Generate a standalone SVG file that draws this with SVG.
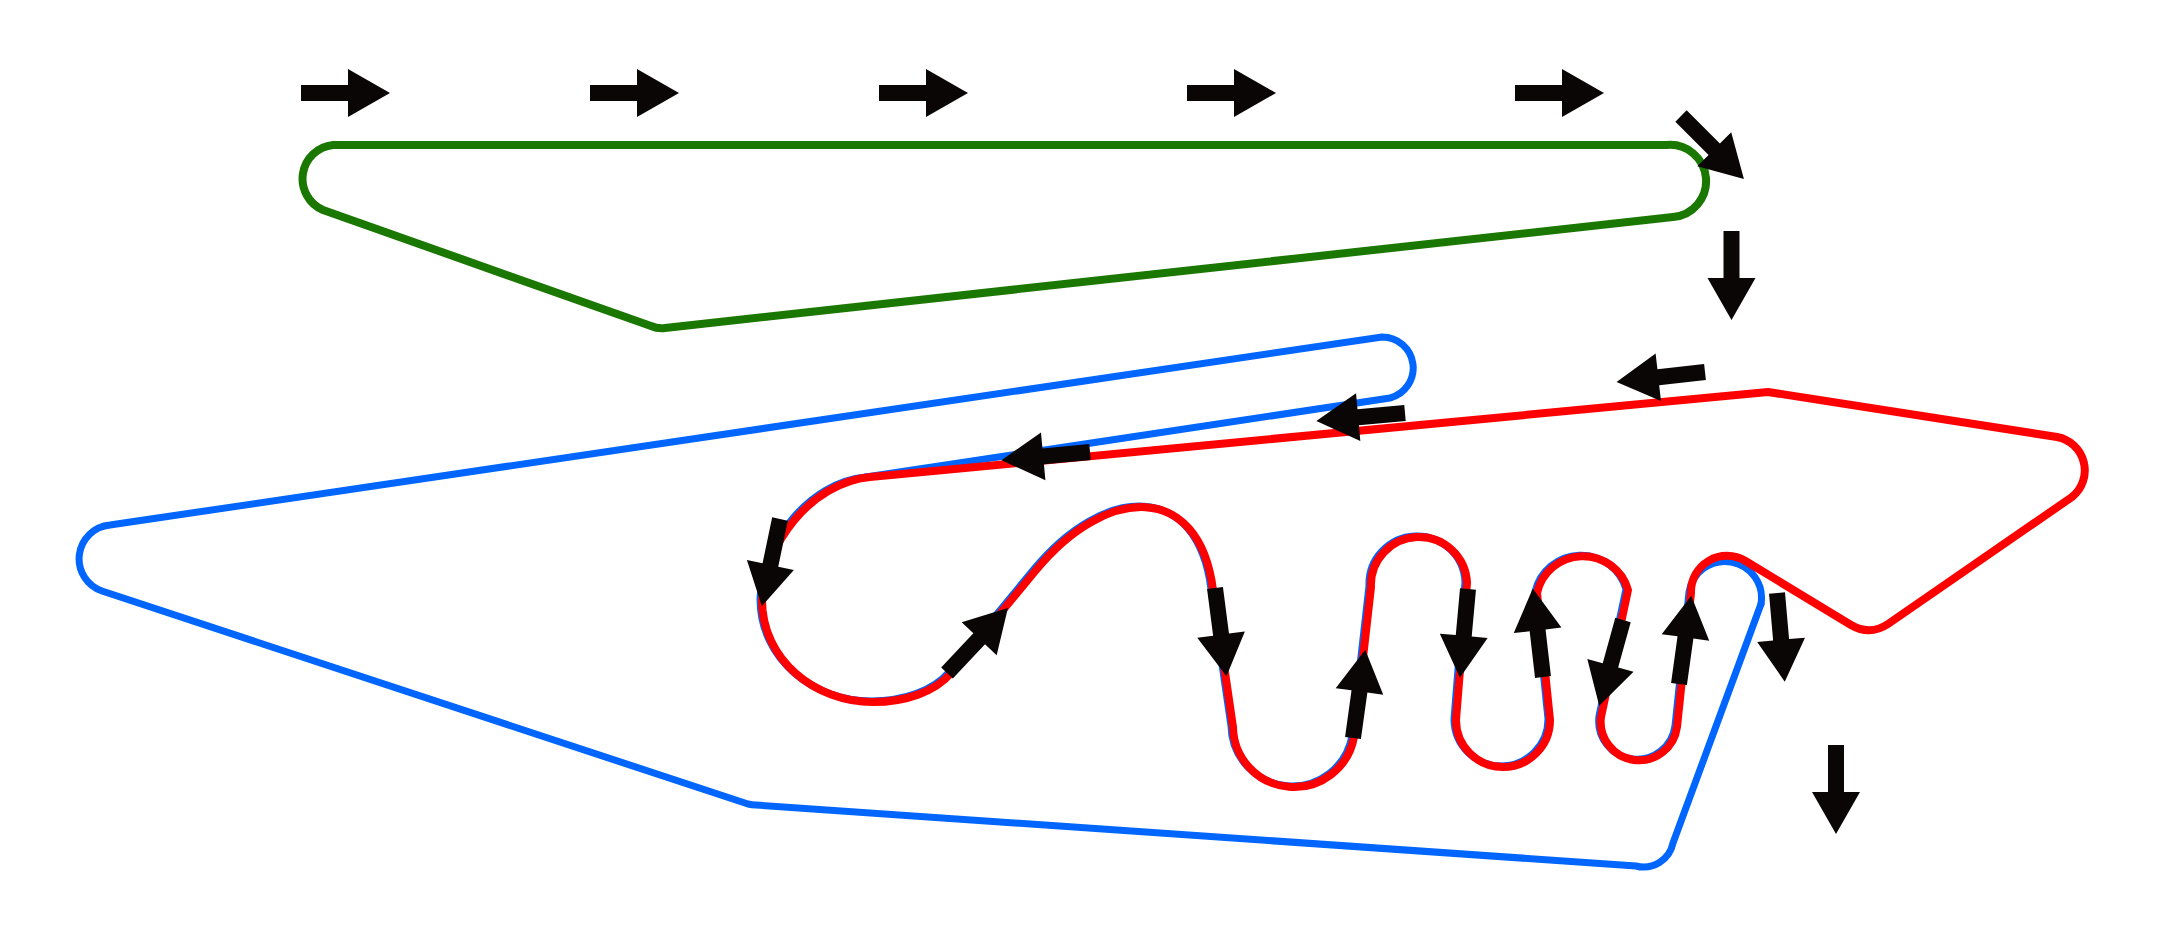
<svg xmlns="http://www.w3.org/2000/svg" xmlns:xlink="http://www.w3.org/1999/xlink" width="2165" height="935" viewBox="0 0 2165 935">
<style>
.trk{fill:none;stroke-linejoin:round;stroke-linecap:round}
.green{stroke:#1a7700;stroke-width:8}
.blue{stroke:#0066ff;stroke-width:7}
.red{stroke:#ff0000;stroke-width:8}
.arr{fill:#0a0606}
</style>
<defs>
<path id="arr" d="M0,-8 H47 V-24 L89,0 L47,24 V8 H0 Z"/>
</defs>
<rect width="2165" height="935" fill="#ffffff"/>
<g id="green-track">
<path class="trk green" d="M333,145 L1667,145 A36,36 0 0 1 1673,217 L665,328 Q658,329 651,326 L323,210 A34,34 0 0 1 333,145 Z"/>
</g>
<g id="blue-track">
<path class="trk blue" d="M866,477 L1390,398 A31,31 0 0 0 1382,337 L110,525 A34,34 0 0 0 102,591 L748,804 Q752,805 756,805 L1636,866 A30,30 0 0 0 1673,843 L1761,604"/>
<path class="trk blue" transform="translate(-2,-1)" d="M1763,605 A36,36 0 1 0 1691,593 L1677,727 A38,38 0 0 1 1601,717 L1628,590 A47,47 0 0 0 1537,593 L1550,720 A47,47 0 0 1 1456,720 L1467,583 A48,48 0 0 0 1371,587 L1354,737 A61,61 0 0 1 1233,727 L1213,590 C1199,481 1106,485 1036,570 L951,673 C935,692 905,702 873,702 C815,702 762,660 762,600 C764,545 810,483 868,478"/>
</g>
<g id="red-track">
<path class="trk red" d="M1768,392 L870,477 C810,483 764,545 762,600 C762,660 815,702 873,702 C905,702 935,692 951,673 L1036,570 C1106,485 1199,481 1213,590 L1233,727 A61,61 0 0 0 1354,737 L1371,587 A48,48 0 0 1 1467,583 L1456,720 A47,47 0 0 0 1550,720 L1537,593 A47,47 0 0 1 1628,590 L1601,717 A38,38 0 0 0 1677,727 L1691,593 A36,36 0 0 1 1745.5,561 L1851,625 Q1870,636 1888,624 L2072,497 A34,34 0 0 0 2057,437 Z"/>
</g>
<g id="arrows" class="arr">
<use xlink:href="#arr" transform="translate(301,93)"/>
<use xlink:href="#arr" transform="translate(590,93)"/>
<use xlink:href="#arr" transform="translate(879,93)"/>
<use xlink:href="#arr" transform="translate(1187,93)"/>
<use xlink:href="#arr" transform="translate(1515,93)"/>
<use xlink:href="#arr" transform="translate(1681,116) rotate(45)"/>
<use xlink:href="#arr" transform="translate(1731.5,231) rotate(90)"/>
<use xlink:href="#arr" transform="translate(1705,372) rotate(173.6)"/>
<use xlink:href="#arr" transform="translate(1405,413) rotate(174.9)"/>
<use xlink:href="#arr" transform="translate(1090,452) rotate(174.7)"/>
<use xlink:href="#arr" transform="translate(780,519) rotate(101.8)"/>
<use xlink:href="#arr" transform="translate(947,673) rotate(-46.8)"/>
<use xlink:href="#arr" transform="translate(1215,588) rotate(82.6)"/>
<use xlink:href="#arr" transform="translate(1353,738) rotate(-82.1)"/>
<use xlink:href="#arr" transform="translate(1468,589) rotate(95.2)"/>
<use xlink:href="#arr" transform="translate(1543,677) rotate(-96.6)"/>
<use xlink:href="#arr" transform="translate(1623,620) rotate(105.5)"/>
<use xlink:href="#arr" transform="translate(1679,684) rotate(-82.1)"/>
<use xlink:href="#arr" transform="translate(1777,593) rotate(85)"/>
<use xlink:href="#arr" transform="translate(1836,745) rotate(90)"/>
</g>
</svg>
